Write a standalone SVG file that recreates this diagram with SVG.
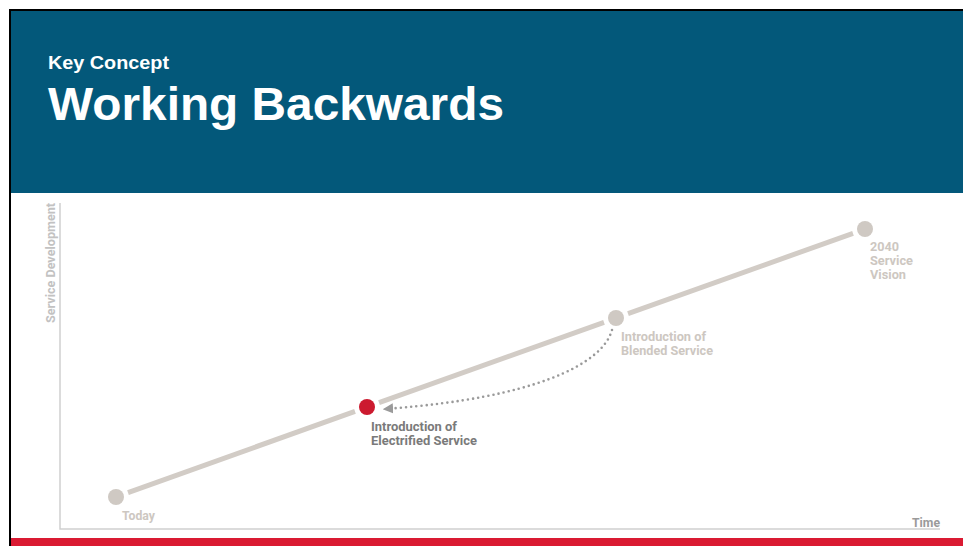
<svg xmlns="http://www.w3.org/2000/svg" width="963" height="546" viewBox="0 0 963 546">
<style>
.lbl{font-family:Roboto,"Liberation Sans",sans-serif;font-weight:700;font-size:13px;fill:#cdc7c1}
.dark{fill:#7a7a7a}
.axis{stroke:#cfcfcf;stroke-width:1.5;fill:none}
.trend{stroke:#d2ccc6;stroke-width:5;fill:none}
.dot{fill:#cfc9c3}
</style>
<defs>
<marker id="arr" viewBox="0 0 10 10" refX="2" refY="5" markerWidth="4" markerHeight="4" orient="auto-start-reverse" markerUnits="strokeWidth">
<path d="M0,0 L10,5 L0,10 z" fill="#9a9a9a"/>
</marker>
</defs>
<rect x="0" y="0" width="963" height="546" fill="#ffffff"/>
<rect x="9" y="9" width="954" height="2" fill="#000"/>
<rect x="9" y="9" width="2" height="537" fill="#000"/>
<rect x="11" y="11" width="952" height="182" fill="#03587A"/>
<rect x="11" y="538" width="952" height="8" fill="#DA1A32"/>
<text x="48" y="69" font-family="'Liberation Sans',Arial,sans-serif" font-weight="700" font-size="19" fill="#fff" textLength="121" lengthAdjust="spacingAndGlyphs">Key Concept</text>
<text x="48" y="120" font-family="'Liberation Sans',Arial,sans-serif" font-weight="700" font-size="47" fill="#fff" textLength="456" lengthAdjust="spacingAndGlyphs">Working Backwards</text>
<g id="axes">
<path class="axis" d="M60,203 V529 H940"/>
<text class="lbl" transform="translate(55,323) rotate(-90)" textLength="120" lengthAdjust="spacingAndGlyphs" style="font-size:12.5px;fill:#c2c2c2">Service Development</text>
<text class="lbl" x="912" y="527" textLength="28" lengthAdjust="spacingAndGlyphs" style="fill:#9a9a9a">Time</text>
</g>
<g id="connectors">
<path class="trend" d="M128,492.7 L355,411.3"/>
<path class="trend" d="M379,402.7 L604,322.3"/>
<path class="trend" d="M628,313.7 L853,233.3"/>
<path d="M612,330 C602,366 530,398 391,408.5" fill="none" stroke="#9a9a9a" stroke-width="2.6" stroke-linecap="round" stroke-dasharray="0 5.2" marker-end="url(#arr)"/>
</g>
<g id="today">
<circle class="dot" cx="116" cy="497" r="8"/>
<text class="lbl" x="122" y="520" textLength="33" lengthAdjust="spacingAndGlyphs">Today</text>
</g>
<g id="electrified">
<circle cx="367" cy="407" r="8" fill="#CC1A2F"/>
<text class="lbl dark" x="371" y="431" textLength="86" lengthAdjust="spacingAndGlyphs">Introduction of</text>
<text class="lbl dark" x="371" y="445" textLength="106" lengthAdjust="spacingAndGlyphs">Electrified Service</text>
</g>
<g id="blended">
<circle class="dot" cx="616" cy="318" r="8"/>
<text class="lbl" x="621" y="341" textLength="85" lengthAdjust="spacingAndGlyphs">Introduction of</text>
<text class="lbl" x="621" y="355" textLength="92" lengthAdjust="spacingAndGlyphs">Blended Service</text>
</g>
<g id="vision">
<circle class="dot" cx="865" cy="229" r="8"/>
<text class="lbl" x="870" y="251" textLength="29" lengthAdjust="spacingAndGlyphs">2040</text>
<text class="lbl" x="870" y="265" textLength="43" lengthAdjust="spacingAndGlyphs">Service</text>
<text class="lbl" x="870" y="279" textLength="36" lengthAdjust="spacingAndGlyphs">Vision</text>
</g>
</svg>
